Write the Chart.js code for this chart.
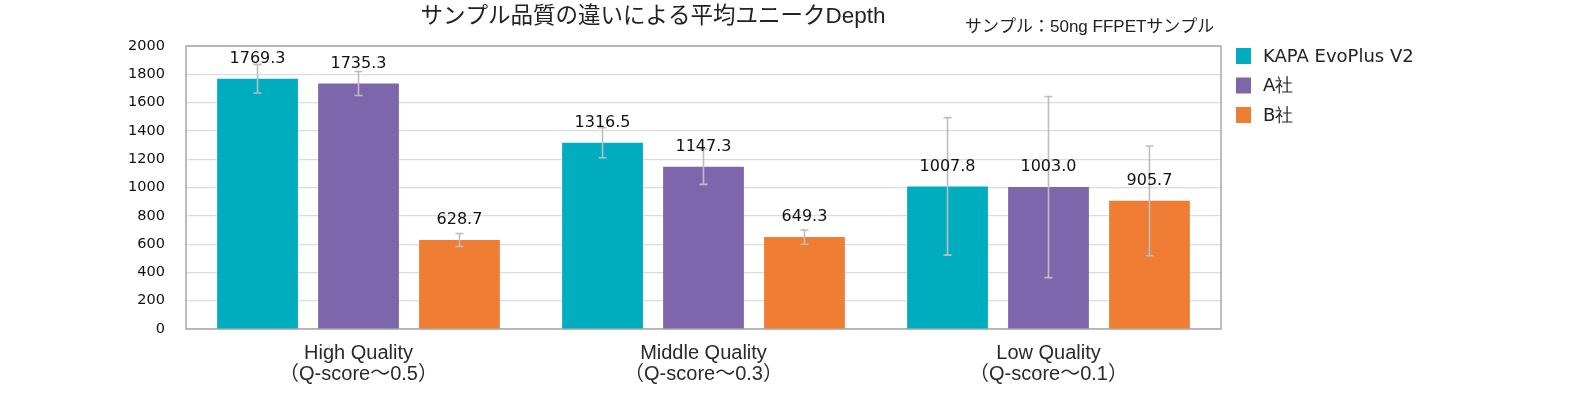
<!DOCTYPE html>
<html>
<head>
<meta charset="utf-8">
<script src="https://cdn.jsdelivr.net/npm/chart.js@4"></script>
<style>
html,body{margin:0;padding:0;background:#fff;}
#wrap{width:1575px;height:407px;position:relative;}
</style>
</head>
<body>
<div id="wrap"><canvas id="c" width="1575" height="407"></canvas></div>
<script>
const categories = [["High Quality","（Q-score～0.5）"],["Middle Quality","（Q-score～0.3）"],["Low Quality","（Q-score～0.1）"]];
const seriesNames = ["KAPA EvoPlus V2","A社","B社"];
const kapaValues = [1769.3,1316.5,1007.8];
const aValues = [1735.3,1147.3,1003.0];
const bValues = [628.7,649.3,905.7];
const kapaErr = [101,106,486];
const aErr = [85,125,640];
const bErr = [46,50,388];
const yTickValues = [0,200,400,600,800,1000,1200,1400,1600,1800,2000];
const titleText = "サンプル品質の違いによる平均ユニークDepth";
const subtitleText = "サンプル：50ng FFPETサンプル";
const colors = ["#00ADBE","#7E66AC","#F07D34"];

const numFont = "'DejaVu Sans', sans-serif";
const jpFont = "'Liberation Sans','Noto Sans CJK JP', sans-serif";

const framePlugin = {
  id:'frame',
  beforeDatasetsDraw(chart){
    const {ctx, chartArea:a} = chart;
    ctx.save();
    ctx.strokeStyle = '#a8a8a8';
    ctx.lineWidth = 1.5;
    ctx.strokeRect(a.left, a.top, a.right-a.left, a.bottom-a.top);
    ctx.restore();
  }
};

const errPlugin = {
  id:'errbars',
  afterDatasetsDraw(chart){
    const {ctx} = chart;
    const y = chart.scales.y;
    ctx.save();
    chart.data.datasets.forEach((ds,di)=>{
      const meta = chart.getDatasetMeta(di);
      meta.data.forEach((el,i)=>{
        const v = ds.data[i], e = ds.err[i];
        const yt = y.getPixelForValue(v+e), yb = y.getPixelForValue(v-e);
        ctx.strokeStyle = '#bdbdbd';
        ctx.lineWidth = 1.6;
        ctx.beginPath();
        ctx.moveTo(el.x, yt); ctx.lineTo(el.x, yb);
        ctx.moveTo(el.x-4, yt); ctx.lineTo(el.x+4, yt);
        ctx.moveTo(el.x-4, yb); ctx.lineTo(el.x+4, yb);
        ctx.stroke();
      });
    });
    ctx.fillStyle = '#111';
    ctx.font = "16px " + numFont;
    ctx.textAlign = 'center';
    ctx.textBaseline = 'middle';
    chart.data.datasets.forEach((ds,di)=>{
      const meta = chart.getDatasetMeta(di);
      meta.data.forEach((el,i)=>{
        ctx.fillText(ds.data[i].toFixed(1), el.x, el.y - 20);
      });
    });
    ctx.restore();
  }
};

const textPlugin = {
  id:'texts',
  afterDraw(chart){
    const {ctx, chartArea:a} = chart;
    ctx.save();
    ctx.fillStyle = '#222';
    ctx.textBaseline = 'middle';
    ctx.textAlign = 'center';
    ctx.font = "22.5px " + jpFont;
    ctx.fillText(titleText, a.left + 467, 17);
    ctx.textAlign = 'left';
    ctx.font = "17px " + jpFont;
    ctx.fillText(subtitleText, a.left + 779, 27);
    ctx.font = "18px " + numFont;
    chart.data.datasets.forEach((ds,i)=>{
      const top = a.top + 2 + i*29.5;
      ctx.fillStyle = ds.backgroundColor;
      ctx.fillRect(a.right + 15, top, 15, 16);
      ctx.fillStyle = '#222';
      ctx.fillText(ds.label, a.right + 42, top + 9);
    });
    ctx.restore();
  }
};

new Chart(document.getElementById('c'), {
  type:'bar',
  data:{
    labels: categories,
    datasets:[
      {label:seriesNames[0], data:kapaValues, err:kapaErr, backgroundColor:colors[0]},
      {label:seriesNames[1], data:aValues, err:aErr, backgroundColor:colors[1]},
      {label:seriesNames[2], data:bValues, err:bErr, backgroundColor:colors[2]}
    ]
  },
  options:{
    responsive:false,
    animation:false,
    events:[],
    categoryPercentage:0.878,
    barPercentage:0.8,
    layout:{padding:{top:46,right:354,left:0,bottom:0}},
    plugins:{legend:{display:false},tooltip:{enabled:false},title:{display:false}},
    scales:{
      x:{
        grid:{display:false,drawTicks:false},
        border:{display:false},
        ticks:{color:'#2a2a2a',padding:14,font:{family:jpFont,size:20,lineHeight:1.05},maxRotation:0,autoSkip:false},
        afterFit(s){ s.height = 78; }
      },
      y:{
        min:0,max:2000,
        afterBuildTicks(s){ s.ticks = yTickValues.map(v=>({value:v})); },
        grid:{color:'#dcdcdc',lineWidth:1.2,drawTicks:false},
        border:{display:false},
        ticks:{color:'#111',padding:21,font:{family:numFont,size:14.5},callback:(v)=>String(v)},
        afterFit(s){ s.width = 186; }
      }
    }
  },
  plugins:[framePlugin, errPlugin, textPlugin]
});
</script>
</body>
</html>
